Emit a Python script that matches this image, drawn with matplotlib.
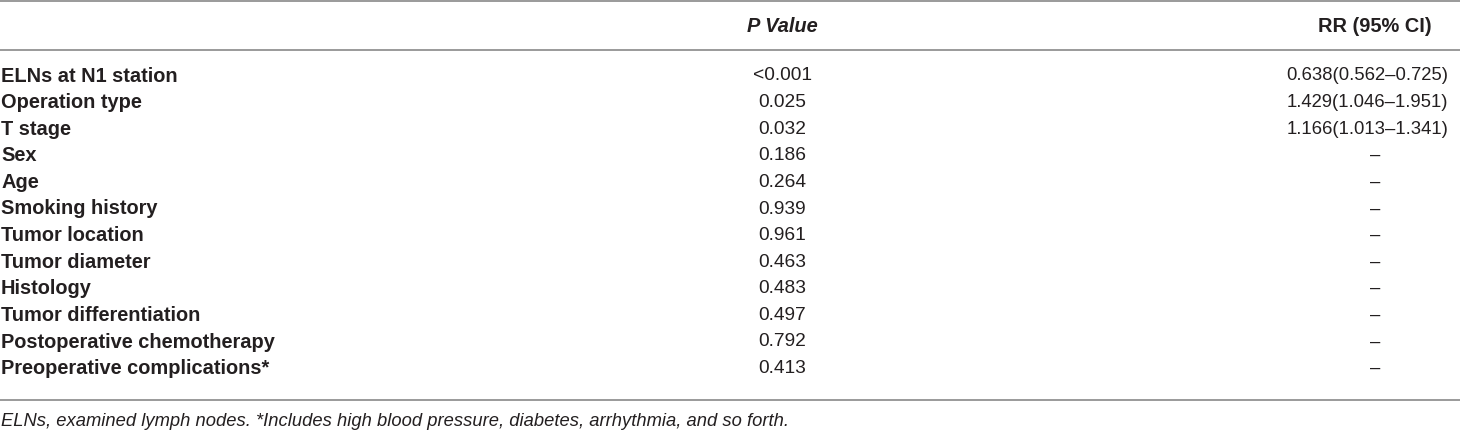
import matplotlib.pyplot as plt

variables = ["ELNs at N1 station", "Operation type", "T stage", "Sex", "Age",
             "Smoking history", "Tumor location", "Tumor diameter", "Histology",
             "Tumor differentiation", "Postoperative chemotherapy",
             "Preoperative complications*"]
p_values = ["<0.001", "0.025", "0.032", "0.186", "0.264", "0.939", "0.961",
            "0.463", "0.483", "0.497", "0.792", "0.413"]
rr_ci = ["0.638(0.562\u20130.725)", "1.429(1.046\u20131.951)",
         "1.166(1.013\u20131.341)"] + ["\u2013"] * 9
footnote = ("ELNs, examined lymph nodes. *Includes high blood pressure, "
            "diabetes, arrhythmia, and so forth.")

plt.rcParams["font.family"] = ["Liberation Sans", "DejaVu Sans"]

fig = plt.figure(figsize=(14.6, 4.32), dpi=100)
ax = fig.add_axes([0, 0, 1, 1])
ax.set_xlim(0, 1460)
ax.set_ylim(432, 0)
ax.axis("off")

line_color = "#9a9a9a"
for y in (1, 50, 400):
    ax.axhline(y, color=line_color, linewidth=1.4)

fs_bold = 14.4
fs_reg = 13.8
fs_rr = 13.3
fs_note = 13.2
txt = "#231f20"
ax.text(782, 26, "P Value", ha="center", va="center", fontsize=fs_bold,
        fontweight="bold", fontstyle="italic", color=txt)
ax.text(1432, 26, "RR (95% CI)", ha="right", va="center", fontsize=fs_bold,
        fontweight="bold", color=txt)

y0, dy = 76, 26.6
for i, (name, p, rr) in enumerate(zip(variables, p_values, rr_ci)):
    y = y0 + i * dy
    ax.text(1, y, name, ha="left", va="center", fontsize=fs_bold,
            fontweight="bold", color=txt)
    ax.text(782, y, p, ha="center", va="center", fontsize=fs_reg, color=txt)
    if rr == "\u2013":
        ax.text(1375, y, rr, ha="center", va="center", fontsize=fs_rr, color=txt)
    else:
        ax.text(1448, y, rr, ha="right", va="center", fontsize=fs_rr, color=txt)

ax.text(1, 421, footnote, ha="left", va="center", fontsize=fs_note,
        fontstyle="italic", color=txt)

fig.savefig("out.png", dpi=100)
